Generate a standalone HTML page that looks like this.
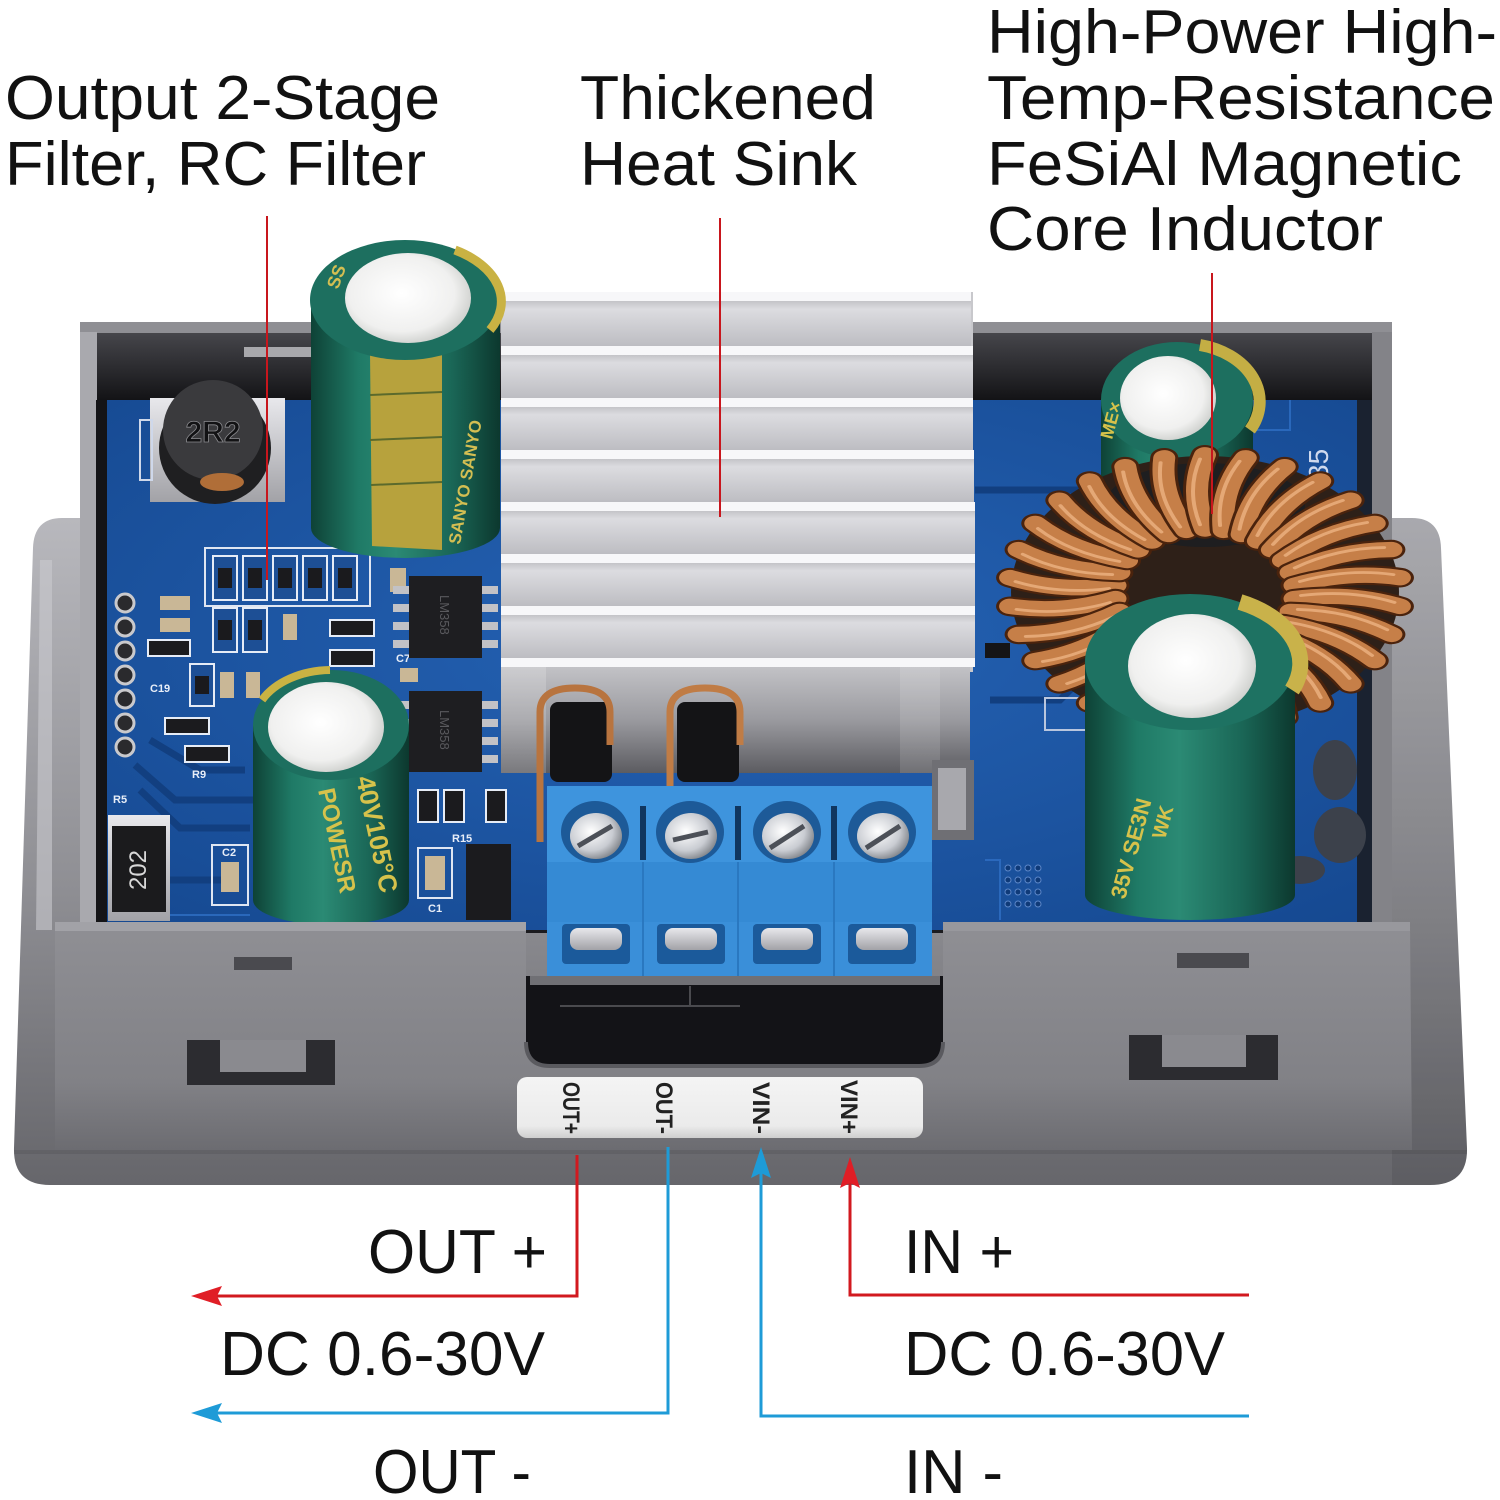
<!DOCTYPE html>
<html><head><meta charset="utf-8">
<style>
html,body{margin:0;padding:0;background:#ffffff;}
svg{display:block}
</style></head><body>
<svg xmlns="http://www.w3.org/2000/svg" xmlns:xlink="http://www.w3.org/1999/xlink" width="1500" height="1500" viewBox="0 0 1500 1500">
<defs>
  <linearGradient id="baseG" x1="0" y1="0" x2="0" y2="1">
    <stop offset="0" stop-color="#b8b8bd"/><stop offset="0.55" stop-color="#8f8f94"/><stop offset="1" stop-color="#66666b"/>
  </linearGradient>
  <linearGradient id="faceG" x1="0" y1="0" x2="0" y2="1">
    <stop offset="0" stop-color="#8f8f94"/><stop offset="0.7" stop-color="#818186"/><stop offset="1" stop-color="#6c6c71"/>
  </linearGradient>
  <linearGradient id="topWallG" x1="0" y1="0" x2="0" y2="1">
    <stop offset="0" stop-color="#46464b"/><stop offset="1" stop-color="#131316"/>
  </linearGradient>
  <radialGradient id="pcbG" cx="0.5" cy="0.45" r="0.75">
    <stop offset="0" stop-color="#2563b5"/><stop offset="1" stop-color="#154890"/>
  </radialGradient>
  <linearGradient id="finG" x1="0" y1="0" x2="0" y2="1">
    <stop offset="0" stop-color="#c4c4c8"/><stop offset="0.18" stop-color="#dcdce0"/><stop offset="1" stop-color="#bdbdc2"/>
  </linearGradient>
  <linearGradient id="blockG" x1="0" y1="0" x2="0" y2="1">
    <stop offset="0" stop-color="#c2c2c6"/><stop offset="0.5" stop-color="#9a9a9f"/><stop offset="1" stop-color="#5c5c61"/>
  </linearGradient>
  <linearGradient id="capG" x1="0" y1="0" x2="1" y2="0">
    <stop offset="0" stop-color="#0e4236"/><stop offset="0.25" stop-color="#1f7a66"/><stop offset="0.45" stop-color="#2b8a74"/><stop offset="0.75" stop-color="#1a6656"/><stop offset="1" stop-color="#0c382e"/>
  </linearGradient>
  <radialGradient id="diskG" cx="0.45" cy="0.45" r="0.6">
    <stop offset="0" stop-color="#ffffff"/><stop offset="0.7" stop-color="#f0f0ef"/><stop offset="1" stop-color="#c9cbc8"/>
  </radialGradient>
  <radialGradient id="screwG" cx="0.4" cy="0.4" r="0.7">
    <stop offset="0" stop-color="#ffffff"/><stop offset="0.6" stop-color="#c9ccd2"/><stop offset="1" stop-color="#6f7379"/>
  </radialGradient>
  <linearGradient id="silverG" x1="0" y1="0" x2="0" y2="1">
    <stop offset="0" stop-color="#e8e8ec"/><stop offset="1" stop-color="#a2a2a7"/>
  </linearGradient>
  <linearGradient id="labelG" x1="0" y1="0" x2="0" y2="1">
    <stop offset="0" stop-color="#f4f4f4"/><stop offset="0.8" stop-color="#ebebeb"/><stop offset="1" stop-color="#cfcfcf"/>
  </linearGradient>
  <g id="wind">
    <path d="M90,0 Q145,-16 196,0" fill="none" stroke="#4a230d" stroke-width="28" stroke-linecap="round"/>
    <path d="M90,0 Q145,-16 196,0" fill="none" stroke="#c67f48" stroke-width="22" stroke-linecap="round"/>
    <path d="M96,-5 Q145,-19 190,-5" fill="none" stroke="#efb585" stroke-width="4" stroke-linecap="round" opacity="0.75"/>
  </g>
</defs>

<rect x="0" y="0" width="1500" height="1500" fill="#ffffff"/>

<!-- ===== Enclosure base / flanges ===== -->
<path d="M62,518 Q34,518 33,548 L14,1148 Q13,1185 50,1185 L1430,1185 Q1468,1185 1467,1148 L1441,548 Q1440,518 1412,518 Z" fill="url(#baseG)"/>
<path d="M1392,518 L1412,518 Q1440,518 1441,548 L1467,1148 Q1468,1185 1430,1185 L1392,1185 Z" fill="#000" opacity="0.08"/>
<path d="M40,560 L52,560 L52,930 L36,930 Z" fill="#c9c9ce" opacity="0.6"/>

<!-- box walls -->
<rect x="80" y="322" width="1312" height="610" fill="#8f8f94"/>
<rect x="80" y="332" width="17" height="598" fill="#a9a9ae"/>
<rect x="1372" y="332" width="20" height="598" fill="#838388"/>
<rect x="97" y="333" width="1275" height="600" fill="#1b1b1f"/>
<rect x="97" y="333" width="1275" height="67" fill="url(#topWallG)"/>
<rect x="244" y="347" width="67" height="10" fill="#a8a8ac"/>

<!-- PCB -->
<rect x="107" y="400" width="1250" height="530" fill="url(#pcbG)"/>
<rect x="96" y="400" width="11" height="530" fill="#141417"/>
<rect x="1357" y="400" width="15" height="530" fill="#1a2230"/>

<!-- PCB traces -->
<g fill="none" stroke="#123f80" stroke-width="7">
  <path d="M135,765 L175,800 L300,800"/>
  <path d="M140,790 L180,828 L250,828"/>
  <path d="M150,740 L200,770 L245,770"/>
  <path d="M120,880 L230,880"/>
  <path d="M975,490 L1100,490"/>
  <path d="M990,700 L1060,700 L1080,680"/>
</g>
<g fill="none" stroke="#2f6fc4" stroke-width="2" opacity="0.8">
  <path d="M110,915 L250,915"/>
  <path d="M985,860 L1000,860 L1000,920"/>
  <path d="M1290,400 L1290,430 L1240,430"/>
</g>

<!-- 2R2 inductor -->
<rect x="150" y="398" width="135" height="104" fill="url(#silverG)"/>
<rect x="140" y="420" width="12" height="60" fill="none" stroke="#cfd8ea" stroke-width="2"/>
<circle cx="215" cy="448" r="56" fill="#1f1f21"/>
<circle cx="213" cy="430" r="50" fill="#3a3a3d"/>
<ellipse cx="222" cy="482" rx="22" ry="9" fill="#b06e38"/>
<text x="213" y="442" font-family="Liberation Sans, Arial, sans-serif" font-size="30" font-weight="bold" fill="#121214" stroke="#8a8a8e" stroke-width="0.8" text-anchor="middle">2R2</text>

<!-- SMD components left area -->
<g>
  <rect x="205" y="548" width="165" height="58" fill="none" stroke="#dfe6f2" stroke-width="2"/>
  <g stroke="#e6ecf6" stroke-width="2">
    <rect x="213" y="556" width="24" height="44" fill="#1d4f95"/>
    <rect x="243" y="556" width="24" height="44" fill="#1d4f95"/>
    <rect x="273" y="556" width="24" height="44" fill="#1d4f95"/>
    <rect x="303" y="556" width="24" height="44" fill="#1d4f95"/>
    <rect x="333" y="556" width="24" height="44" fill="#1d4f95"/>
    <rect x="213" y="608" width="24" height="44" fill="#1d4f95"/>
    <rect x="243" y="608" width="24" height="44" fill="#1d4f95"/>
    <rect x="190" y="664" width="24" height="42" fill="#1d4f95"/>
  </g>
  <g fill="#1a1a1d">
    <rect x="218" y="568" width="14" height="20"/><rect x="248" y="568" width="14" height="20"/>
    <rect x="278" y="568" width="14" height="20"/><rect x="308" y="568" width="14" height="20"/>
    <rect x="338" y="568" width="14" height="20"/><rect x="218" y="620" width="14" height="20"/>
    <rect x="248" y="620" width="14" height="20"/><rect x="195" y="676" width="14" height="18"/>
  </g>
  <g fill="#c9b796">
    <rect x="160" y="596" width="30" height="14"/><rect x="160" y="618" width="30" height="14"/>
    <rect x="283" y="614" width="14" height="26"/><rect x="390" y="568" width="16" height="24"/>
    <rect x="220" y="672" width="14" height="26"/><rect x="246" y="672" width="14" height="26"/>
    <rect x="400" y="668" width="18" height="14"/><rect x="425" y="856" width="20" height="34"/>
    <rect x="221" y="862" width="18" height="30"/>
  </g>
  <g stroke="#e6ecf6" stroke-width="2" fill="#1b1b1e">
    <rect x="148" y="640" width="42" height="16"/>
    <rect x="165" y="718" width="44" height="16"/>
    <rect x="185" y="746" width="44" height="16"/>
    <rect x="330" y="620" width="44" height="16"/>
    <rect x="330" y="650" width="44" height="16"/>
    <rect x="418" y="790" width="20" height="32"/>
    <rect x="444" y="790" width="20" height="32"/>
    <rect x="486" y="790" width="20" height="32"/>
  </g>
  <rect x="466" y="844" width="45" height="76" fill="#1b1b1e"/>
  <rect x="212" y="845" width="36" height="60" fill="none" stroke="#dfe6f2" stroke-width="2"/>
  <rect x="418" y="848" width="34" height="50" fill="none" stroke="#dfe6f2" stroke-width="2"/>
  <g fill="#2a2a2d" stroke="#c9c9cc" stroke-width="3">
    <circle cx="125" cy="603" r="9"/><circle cx="125" cy="627" r="9"/><circle cx="125" cy="651" r="9"/>
    <circle cx="125" cy="675" r="9"/><circle cx="125" cy="699" r="9"/><circle cx="125" cy="723" r="9"/>
    <circle cx="125" cy="747" r="9"/>
  </g>
  <rect x="108" y="815" width="62" height="106" fill="url(#silverG)"/>
  <rect x="112" y="826" width="54" height="86" fill="#1b1b1d"/>
  <text transform="translate(146,870) rotate(-90)" font-family="Liberation Sans, Arial, sans-serif" font-size="24" fill="#d8d8d8" text-anchor="middle">202</text>
  <g font-family="Liberation Sans, Arial, sans-serif" font-size="11" font-weight="bold" fill="#e8eef8">
    <text x="113" y="803">R5</text><text x="150" y="692">C19</text><text x="192" y="778">R9</text>
    <text x="396" y="662">C7</text><text x="428" y="912">C1</text><text x="222" y="856">C2</text>
    <text x="452" y="842">R15</text>
  </g>
</g>

<!-- ICs -->
<g>
  <g fill="#c2c2c6">
    <rect x="393" y="586" width="16" height="8"/><rect x="393" y="604" width="16" height="8"/><rect x="393" y="622" width="16" height="8"/><rect x="393" y="640" width="16" height="8"/>
    <rect x="482" y="586" width="16" height="8"/><rect x="482" y="604" width="16" height="8"/><rect x="482" y="622" width="16" height="8"/><rect x="482" y="640" width="16" height="8"/>
    <rect x="393" y="701" width="16" height="8"/><rect x="393" y="719" width="16" height="8"/><rect x="393" y="737" width="16" height="8"/><rect x="393" y="755" width="16" height="8"/>
    <rect x="482" y="701" width="16" height="8"/><rect x="482" y="719" width="16" height="8"/><rect x="482" y="737" width="16" height="8"/><rect x="482" y="755" width="16" height="8"/>
  </g>
  <rect x="409" y="576" width="73" height="82" fill="#1e1e21"/>
  <rect x="409" y="691" width="73" height="81" fill="#1e1e21"/>
  <text transform="translate(440,595) rotate(90)" font-family="Liberation Sans, Arial, sans-serif" font-size="13" fill="#5a5a5e">LM358</text>
  <text transform="translate(440,710) rotate(90)" font-family="Liberation Sans, Arial, sans-serif" font-size="13" fill="#5a5a5e">LM358</text>
</g>

<!-- Right PCB details -->
<rect x="985" y="643" width="25" height="15" fill="#151517"/>
<rect x="1045" y="698" width="60" height="32" fill="none" stroke="#b9c6de" stroke-width="2"/>
<g fill="#0f3a78" stroke="#5b86c8" stroke-width="1">
  <circle cx="1008" cy="868" r="3"/><circle cx="1018" cy="868" r="3"/><circle cx="1028" cy="868" r="3"/><circle cx="1038" cy="868" r="3"/>
  <circle cx="1008" cy="880" r="3"/><circle cx="1018" cy="880" r="3"/><circle cx="1028" cy="880" r="3"/><circle cx="1038" cy="880" r="3"/>
  <circle cx="1008" cy="892" r="3"/><circle cx="1018" cy="892" r="3"/><circle cx="1028" cy="892" r="3"/><circle cx="1038" cy="892" r="3"/>
  <circle cx="1008" cy="904" r="3"/><circle cx="1018" cy="904" r="3"/><circle cx="1028" cy="904" r="3"/><circle cx="1038" cy="904" r="3"/>
</g>
<g fill="#3c414b">
  <ellipse cx="1335" cy="770" rx="22" ry="30"/>
  <ellipse cx="1340" cy="835" rx="26" ry="28"/>
  <ellipse cx="1300" cy="870" rx="25" ry="14"/>
</g>
<text transform="translate(1328,480) rotate(-90)" font-family="Liberation Sans, Arial, sans-serif" font-size="28" fill="#cfd9ee">35</text>

<!-- ===== Heat sink ===== -->
<rect x="501" y="292" width="472" height="380" fill="#c8c8cc"/>
<g fill="#f7f7f9">
  <rect x="501" y="292" width="470" height="9"/><rect x="501" y="346" width="472" height="9"/>
  <rect x="501" y="398" width="472" height="9"/><rect x="501" y="450" width="473" height="9"/>
  <rect x="501" y="502" width="474" height="9"/><rect x="501" y="554" width="474" height="9"/>
  <rect x="501" y="606" width="474" height="9"/><rect x="501" y="658" width="474" height="9"/>
</g>
<g fill="url(#finG)">
  <rect x="501" y="301" width="470" height="45"/><rect x="501" y="355" width="472" height="43"/>
  <rect x="501" y="407" width="472" height="43"/><rect x="501" y="459" width="473" height="43"/>
  <rect x="501" y="511" width="474" height="43"/><rect x="501" y="563" width="474" height="43"/>
  <rect x="501" y="615" width="474" height="43"/>
</g>
<rect x="501" y="667" width="469" height="106" fill="url(#blockG)"/>
<rect x="501" y="667" width="45" height="106" fill="#ffffff" opacity="0.18"/>
<rect x="900" y="667" width="40" height="106" fill="#ffffff" opacity="0.12"/>
<rect x="550" y="702" width="62" height="80" rx="8" fill="#141416"/>
<rect x="677" y="702" width="62" height="80" rx="8" fill="#141416"/>
<path d="M540,842 L540,712 Q540,688 575,688 Q610,688 610,712 L610,745" fill="none" stroke="#b8743f" stroke-width="7"/>
<path d="M670,790 L670,712 Q670,688 705,688 Q740,688 740,712 L740,745" fill="none" stroke="#c07c45" stroke-width="7"/>
<rect x="932" y="760" width="42" height="80" fill="#6f6f74"/>
<rect x="938" y="768" width="28" height="62" fill="#a8a8ad"/>

<!-- ===== Terminal block ===== -->
<rect x="547" y="786" width="385" height="190" fill="#3a8fd9"/>
<rect x="547" y="786" width="385" height="76" fill="#3e94dd"/>
<rect x="547" y="862" width="385" height="60" fill="#358ad4"/>
<g fill="#10365f">
  <rect x="640" y="806" width="6" height="54"/><rect x="735" y="806" width="6" height="54"/><rect x="831" y="806" width="6" height="54"/>
</g>
<g stroke="#2a78c0" stroke-width="2">
  <line x1="643" y1="862" x2="643" y2="976"/><line x1="738" y1="862" x2="738" y2="976"/><line x1="834" y1="862" x2="834" y2="976"/>
</g>
<g>
  <ellipse cx="595" cy="832" rx="34" ry="31" fill="#1d5a98"/><ellipse cx="596" cy="836" rx="26" ry="23" fill="url(#screwG)"/>
  <ellipse cx="690" cy="832" rx="34" ry="31" fill="#1d5a98"/><ellipse cx="691" cy="836" rx="26" ry="23" fill="url(#screwG)"/>
  <ellipse cx="787" cy="832" rx="34" ry="31" fill="#1d5a98"/><ellipse cx="788" cy="836" rx="26" ry="23" fill="url(#screwG)"/>
  <ellipse cx="882" cy="832" rx="34" ry="31" fill="#1d5a98"/><ellipse cx="883" cy="836" rx="26" ry="23" fill="url(#screwG)"/>
  <g stroke="#4c5058" stroke-width="5">
    <line x1="578" y1="846" x2="612" y2="826"/><line x1="673" y1="840" x2="708" y2="832"/>
    <line x1="770" y1="848" x2="804" y2="826"/><line x1="866" y1="848" x2="900" y2="826"/>
  </g>
</g>
<g>
  <rect x="562" y="924" width="68" height="40" rx="4" fill="#1b5a9b"/><rect x="570" y="928" width="52" height="22" rx="8" fill="url(#silverG)"/>
  <rect x="657" y="924" width="68" height="40" rx="4" fill="#1b5a9b"/><rect x="665" y="928" width="52" height="22" rx="8" fill="url(#silverG)"/>
  <rect x="753" y="924" width="68" height="40" rx="4" fill="#1b5a9b"/><rect x="761" y="928" width="52" height="22" rx="8" fill="url(#silverG)"/>
  <rect x="848" y="924" width="68" height="40" rx="4" fill="#1b5a9b"/><rect x="856" y="928" width="52" height="22" rx="8" fill="url(#silverG)"/>
</g>

<!-- ===== Capacitors left ===== -->
<path d="M311,300 L311,528 A94.5,30 0 0 0 500,528 L500,300 Z" fill="url(#capG)"/>
<path d="M370,352 L442,352 L442,550 L372,546 Z" fill="#b7a23d"/>
<g stroke="#5b6a2c" stroke-width="2">
  <line x1="370" y1="395" x2="442" y2="392"/><line x1="370" y1="440" x2="442" y2="437"/><line x1="371" y1="485" x2="442" y2="482"/>
</g>
<text transform="translate(460,545) rotate(-80)" font-family="Liberation Sans, Arial, sans-serif" font-size="17" font-weight="bold" fill="#d3be52">SANYO SANYO</text>
<ellipse cx="405" cy="300" rx="95" ry="60" fill="#1d6f5f"/>
<path d="M455,250 A95,60 0 0 1 490,330" fill="none" stroke="#c9b243" stroke-width="9"/>
<ellipse cx="408" cy="298" rx="63" ry="45" fill="url(#diskG)"/>
<text transform="translate(338,290) rotate(-70)" font-family="Liberation Sans, Arial, sans-serif" font-size="18" font-weight="bold" fill="#d3be52">SS</text>

<path d="M253,725 L253,900 A78,25 0 0 0 409,900 L409,725 Z" fill="url(#capG)"/>
<ellipse cx="331" cy="725" rx="78" ry="55" fill="#1d6f5f"/>
<path d="M262,700 A78,55 0 0 1 330,670" fill="none" stroke="#c9b243" stroke-width="8"/>
<ellipse cx="326" cy="727" rx="58" ry="45" fill="url(#diskG)"/>
<text transform="translate(356,778) rotate(78)" font-family="Liberation Sans, Arial, sans-serif" font-size="26" font-weight="bold" fill="#d6c24b">40V105°C</text>
<text transform="translate(318,790) rotate(78)" font-family="Liberation Sans, Arial, sans-serif" font-size="24" font-weight="bold" fill="#d6c24b">POWESR</text>

<!-- top-right small cap -->
<path d="M1101,400 L1101,495 L1253,495 L1253,400 Z" fill="url(#capG)"/>
<ellipse cx="1177" cy="400" rx="76" ry="58" fill="#1d6f5f"/>
<path d="M1200,345 A76,58 0 0 1 1250,430" fill="none" stroke="#c4ae44" stroke-width="12"/>
<ellipse cx="1168" cy="398" rx="48" ry="42" fill="url(#diskG)"/>
<text transform="translate(1112,440) rotate(-75)" font-family="Liberation Sans, Arial, sans-serif" font-size="18" font-weight="bold" fill="#d6c24b">ME×</text>

<!-- ===== Toroid inductor ===== -->
<ellipse cx="1205" cy="592" rx="194" ry="136" fill="#2e2018"/>
<ellipse cx="1205" cy="505" rx="100" ry="42" fill="#1e1e20"/>
<g transform="translate(1205,592) scale(1,0.7)">
  <use xlink:href="#wind" href="#wind" transform="rotate(186)"/>
  <use xlink:href="#wind" href="#wind" transform="rotate(198)"/>
  <use xlink:href="#wind" href="#wind" transform="rotate(210)"/>
  <use xlink:href="#wind" href="#wind" transform="rotate(222)"/>
  <use xlink:href="#wind" href="#wind" transform="rotate(234)"/>
  <use xlink:href="#wind" href="#wind" transform="rotate(246)"/>
  <use xlink:href="#wind" href="#wind" transform="rotate(258)"/>
  <use xlink:href="#wind" href="#wind" transform="rotate(270)"/>
  <use xlink:href="#wind" href="#wind" transform="rotate(282)"/>
  <use xlink:href="#wind" href="#wind" transform="rotate(294)"/>
  <use xlink:href="#wind" href="#wind" transform="rotate(306)"/>
  <use xlink:href="#wind" href="#wind" transform="rotate(318)"/>
  <use xlink:href="#wind" href="#wind" transform="rotate(330)"/>
  <use xlink:href="#wind" href="#wind" transform="rotate(342)"/>
  <use xlink:href="#wind" href="#wind" transform="rotate(354)"/>
  <use xlink:href="#wind" href="#wind" transform="rotate(174)"/>
  <use xlink:href="#wind" href="#wind" transform="rotate(6)"/>
  <use xlink:href="#wind" href="#wind" transform="rotate(162)"/>
  <use xlink:href="#wind" href="#wind" transform="rotate(18)"/>
  <use xlink:href="#wind" href="#wind" transform="rotate(150)"/>
  <use xlink:href="#wind" href="#wind" transform="rotate(30)"/>
  <use xlink:href="#wind" href="#wind" transform="rotate(138)"/>
  <use xlink:href="#wind" href="#wind" transform="rotate(42)"/>
  <use xlink:href="#wind" href="#wind" transform="rotate(126)"/>
  <use xlink:href="#wind" href="#wind" transform="rotate(54)"/>
  <use xlink:href="#wind" href="#wind" transform="rotate(114)"/>
  <use xlink:href="#wind" href="#wind" transform="rotate(66)"/>
  <use xlink:href="#wind" href="#wind" transform="rotate(102)"/>
  <use xlink:href="#wind" href="#wind" transform="rotate(78)"/>
  <use xlink:href="#wind" href="#wind" transform="rotate(90)"/>
</g>

<!-- bottom-right big cap -->
<path d="M1085,662 L1085,895 A105,25 0 0 0 1295,895 L1295,662 Z" fill="url(#capG)"/>
<ellipse cx="1190" cy="662" rx="105" ry="68" fill="#1e7262"/>
<path d="M1240,602 A105,68 0 0 1 1292,690" fill="none" stroke="#c9b24a" stroke-width="16"/>
<ellipse cx="1192" cy="666" rx="64" ry="52" fill="url(#diskG)"/>
<text transform="translate(1125,900) rotate(-75)" font-family="Liberation Sans, Arial, sans-serif" font-size="22" font-weight="bold" fill="#d6c24b">35V SE3N</text>
<text transform="translate(1165,840) rotate(-75)" font-family="Liberation Sans, Arial, sans-serif" font-size="20" font-weight="bold" fill="#d6c24b">WK</text>

<!-- ===== Front wall ===== -->
<rect x="526" y="976" width="417" height="90" fill="#131317"/>
<rect x="530" y="976" width="410" height="9" fill="#707075"/>
<path d="M560,1006 L740,1006 M690,986 L690,1006" stroke="#4a4a4e" stroke-width="2" fill="none"/>
<path d="M55,925 L526,925 L526,1042 Q526,1066 550,1066 L919,1066 Q943,1066 943,1042 L943,925 L1410,925 L1412,1150 L55,1150 Z" fill="url(#faceG)"/>
<rect x="55" y="922" width="471" height="9" fill="#a2a2a7"/>
<rect x="943" y="922" width="467" height="9" fill="#98989d"/>
<path d="M526,1042 Q526,1066 550,1066 L919,1066 Q943,1066 943,1042" fill="none" stroke="#5a5a5f" stroke-width="4"/>
<rect x="234" y="957" width="58" height="13" fill="#4a4a4f"/>
<rect x="1177" y="953" width="72" height="15" fill="#4a4a4f"/>
<rect x="187" y="1040" width="148" height="45" fill="#2c2c30"/>
<rect x="220" y="1040" width="86" height="32" fill="#8a8a8f"/>
<rect x="1129" y="1035" width="149" height="45" fill="#2c2c30"/>
<rect x="1162" y="1035" width="84" height="32" fill="#8a8a8f"/>
<rect x="14" y="1150" width="1453" height="4" fill="#000" opacity="0.08"/>

<!-- label strip -->
<rect x="517" y="1077" width="406" height="61" rx="10" fill="url(#labelG)"/>
<g font-family="Liberation Sans, Arial, sans-serif" font-size="24" font-weight="bold" fill="#222">
  <text transform="translate(563,1082) rotate(90)" textLength="52" lengthAdjust="spacingAndGlyphs">OUT+</text>
  <text transform="translate(656,1082) rotate(90)" textLength="52" lengthAdjust="spacingAndGlyphs">OUT-</text>
  <text transform="translate(753,1082) rotate(90)" textLength="52" lengthAdjust="spacingAndGlyphs">VIN-</text>
  <text transform="translate(841,1080) rotate(90)" textLength="54" lengthAdjust="spacingAndGlyphs">VIN+</text>
</g>

<!-- ===== Leader lines (top) ===== -->
<g stroke="#c8161d" stroke-width="2">
  <line x1="267" y1="216" x2="267" y2="580"/>
  <line x1="720" y1="218" x2="720" y2="517"/>
  <line x1="1212" y1="273" x2="1212" y2="514"/>
</g>

<!-- ===== Connector lines (bottom) ===== -->
<g fill="none" stroke-width="3">
  <polyline points="577,1155 577,1296 214,1296" stroke="#d2191f"/>
  <polyline points="668,1147 668,1413 214,1413" stroke="#1e9bd7"/>
  <polyline points="761,1172 761,1416 1249,1416" stroke="#1e9bd7"/>
  <polyline points="850,1182 850,1295 1249,1295" stroke="#d2191f"/>
</g>
<polygon points="191,1296 222,1286 217,1296 222,1306" fill="#e01e26"/>
<polygon points="191,1413 222,1403 217,1413 222,1423" fill="#1e9bd7"/>
<polygon points="761,1147 751,1178 761,1173 771,1178" fill="#1e9bd7"/>
<polygon points="850,1157 840,1188 850,1183 860,1188" fill="#e01e26"/>

<!-- ===== Text ===== -->
<g font-family="Liberation Sans, Arial, sans-serif" font-size="62" fill="#111111">
  <text x="5" y="119" textLength="435" lengthAdjust="spacingAndGlyphs">Output 2-Stage</text>
  <text x="5" y="185" textLength="421" lengthAdjust="spacingAndGlyphs">Filter, RC Filter</text>
  <text x="580" y="119" textLength="296" lengthAdjust="spacingAndGlyphs">Thickened</text>
  <text x="580" y="185" textLength="277" lengthAdjust="spacingAndGlyphs">Heat Sink</text>
  <text x="987" y="53" textLength="510" lengthAdjust="spacingAndGlyphs">High-Power High-</text>
  <text x="987" y="119" textLength="508" lengthAdjust="spacingAndGlyphs">Temp-Resistance</text>
  <text x="987" y="185" textLength="475" lengthAdjust="spacingAndGlyphs">FeSiAl Magnetic</text>
  <text x="987" y="250" textLength="396" lengthAdjust="spacingAndGlyphs">Core Inductor</text>

  <text x="368" y="1273" textLength="179" lengthAdjust="spacingAndGlyphs">OUT +</text>
  <text x="904" y="1273" textLength="110" lengthAdjust="spacingAndGlyphs">IN +</text>
  <text x="220" y="1375" textLength="325" lengthAdjust="spacingAndGlyphs">DC 0.6-30V</text>
  <text x="904" y="1375" textLength="321" lengthAdjust="spacingAndGlyphs">DC 0.6-30V</text>
  <text x="373" y="1493" textLength="158" lengthAdjust="spacingAndGlyphs">OUT -</text>
  <text x="904" y="1493" textLength="99" lengthAdjust="spacingAndGlyphs">IN -</text>
</g>
</svg>
</body></html>
